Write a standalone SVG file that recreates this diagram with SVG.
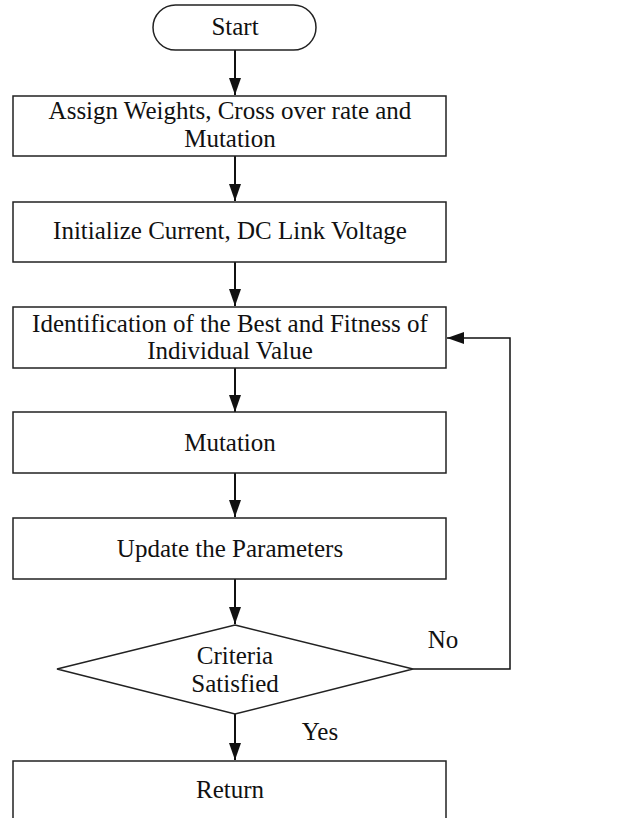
<svg xmlns="http://www.w3.org/2000/svg" width="622" height="818" viewBox="0 0 622 818">
<style>
.box{fill:#fff;stroke:#222;stroke-width:1.5}
.t{font-family:"Liberation Serif","Times New Roman",serif;font-size:25px;fill:#111;text-anchor:middle}
.c{fill:none;stroke:#111;stroke-width:2}
</style>
<defs>
<marker id="ah" markerWidth="17" markerHeight="12" refX="17" refY="6" orient="auto" markerUnits="userSpaceOnUse" viewBox="0 0 17 12">
<path d="M0,0 L17,6 L0,12 z" fill="#111"/>
</marker>
</defs>
<rect width="622" height="818" fill="#fff"/>
<g id="connectors">
<line class="c" x1="235" y1="50" x2="235" y2="95" marker-end="url(#ah)"/>
<line class="c" x1="235" y1="156" x2="235" y2="201" marker-end="url(#ah)"/>
<line class="c" x1="235" y1="262" x2="235" y2="306" marker-end="url(#ah)"/>
<line class="c" x1="235" y1="368" x2="235" y2="412" marker-end="url(#ah)"/>
<line class="c" x1="235" y1="473" x2="235" y2="517" marker-end="url(#ah)"/>
<line class="c" x1="235" y1="579" x2="235" y2="624" marker-end="url(#ah)"/>
<line class="c" x1="235" y1="714" x2="235" y2="760" marker-end="url(#ah)"/>
<polyline class="c" style="stroke-width:1.5" points="413,669 510,669 510,338 447,338" marker-end="url(#ah)"/>
<text class="t" x="443" y="648">No</text>
<text class="t" x="320" y="740">Yes</text>
</g>
<g id="start">
<rect class="box" x="153" y="5" width="163" height="45" rx="22.5"/>
<text class="t" x="235" y="35">Start</text>
</g>
<g id="assign">
<rect class="box" x="13" y="96" width="433" height="60"/>
<text class="t" x="230" y="119">Assign Weights, Cross over rate and</text>
<text class="t" x="230" y="147">Mutation</text>
</g>
<g id="init">
<rect class="box" x="13" y="202" width="433" height="60"/>
<text class="t" x="230" y="239">Initialize Current, DC Link Voltage</text>
</g>
<g id="identify">
<rect class="box" x="13" y="307" width="433" height="61"/>
<text class="t" x="230" y="332">Identification of the Best and Fitness of</text>
<text class="t" x="230" y="359">Individual Value</text>
</g>
<g id="mutation">
<rect class="box" x="13" y="412" width="433" height="61"/>
<text class="t" x="230" y="451">Mutation</text>
</g>
<g id="update">
<rect class="box" x="13" y="518" width="433" height="61"/>
<text class="t" x="230" y="557">Update the Parameters</text>
</g>
<g id="criteria">
<polygon class="box" points="235,625 413,669 235,714 57,669"/>
<text class="t" x="235" y="664">Criteria</text>
<text class="t" x="235" y="692">Satisfied</text>
</g>
<g id="return">
<rect class="box" x="13" y="761" width="433" height="70"/>
<text class="t" x="230" y="798">Return</text>
</g>
</svg>
